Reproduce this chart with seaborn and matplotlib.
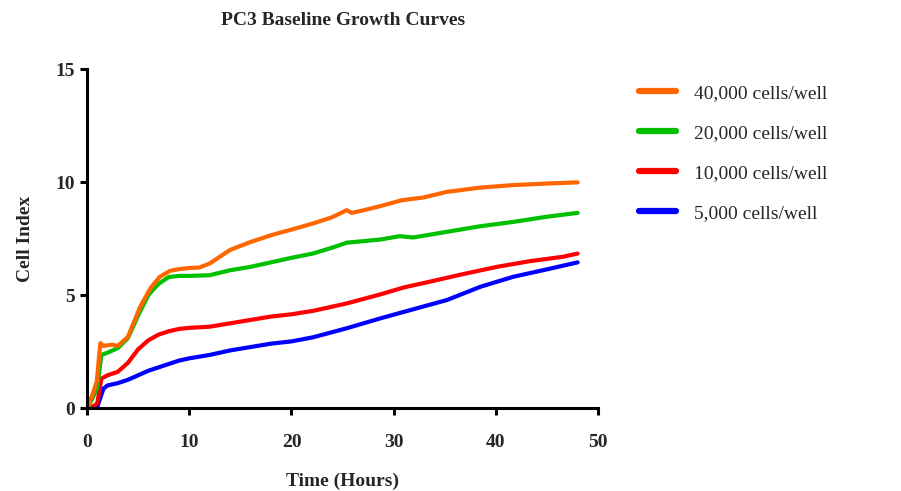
import matplotlib
matplotlib.use("Agg")
import matplotlib.pyplot as plt
import seaborn as sns
import pandas as pd

# values
labels = ["40,000 cells/well", "20,000 cells/well", "10,000 cells/well", "5,000 cells/well"]
colors = ["#FF6600", "#00C000", "#FF0000", "#0000FF"]

hours_40k = [0, 0.5, 0.95, 1.3, 1.6, 2, 2.5, 3, 3.5, 4, 5.2, 6.2, 7.1, 8.1, 9, 10, 11, 12,
             14, 16, 18, 20, 22.1, 24, 25.4, 25.9, 27, 28.7, 30.8, 32.9, 35.2, 38.5, 41.7, 45, 48]
cells_40k = [0, 0.55, 1.17, 2.87, 2.75, 2.78, 2.8, 2.75, 2.95, 3.15, 4.48, 5.3, 5.8, 6.07, 6.15, 6.2, 6.22, 6.4,
             7.0, 7.35, 7.65, 7.9, 8.17, 8.45, 8.76, 8.64, 8.75, 8.94, 9.2, 9.32, 9.57, 9.76, 9.87, 9.94, 9.99]

hours_20k = [0, 0.5, 1.0, 1.4, 2, 3, 4, 5, 6, 7, 8, 9, 10, 12, 14, 16, 18, 20, 22.1, 24,
             25.4, 28.7, 30.6, 31.9, 35.2, 38.5, 41.7, 45, 48]
cells_20k = [0, 0.4, 0.9, 2.35, 2.45, 2.65, 3.1, 4.1, 5.0, 5.5, 5.8, 5.85, 5.85, 5.88, 6.1, 6.25, 6.45, 6.65, 6.84, 7.1,
             7.32, 7.46, 7.61, 7.55, 7.8, 8.05, 8.24, 8.47, 8.64]

hours_10k = [0, 0.5, 1.0, 1.4, 2, 3, 4, 5, 6, 7, 8, 9, 10, 12, 14, 16, 18, 20, 22.1,
             25.4, 28.7, 31, 33.5, 36.8, 40.1, 43.3, 46.6, 48]
cells_10k = [0, 0.05, 0.2, 1.3, 1.45, 1.6, 2.0, 2.6, 3.0, 3.25, 3.4, 3.5, 3.55, 3.6, 3.75, 3.9, 4.05, 4.15, 4.3,
             4.63, 5.03, 5.34, 5.59, 5.93, 6.25, 6.5, 6.7, 6.84]

hours_5k = [0, 0.5, 1.0, 1.6, 2, 3, 4, 5, 6, 7, 8, 9, 10, 12, 14, 16, 18, 20, 22.1,
            25.4, 28.7, 31.9, 35.2, 38.5, 41.7, 45, 48]
cells_5k = [0, 0.02, 0.05, 0.85, 1.0, 1.1, 1.25, 1.45, 1.65, 1.8, 1.95, 2.1, 2.2, 2.35, 2.55, 2.7, 2.85, 2.95, 3.13,
            3.53, 3.97, 4.37, 4.78, 5.37, 5.81, 6.14, 6.45]

frames = []
for lab, h, c in zip(labels, [hours_40k, hours_20k, hours_10k, hours_5k],
                     [cells_40k, cells_20k, cells_10k, cells_5k]):
    frames.append(pd.DataFrame({"Time": h, "Cell Index": c, "Density": lab}))
df = pd.concat(frames, ignore_index=True)

sns.set_style("white")
plt.rcParams['font.family'] = ['Liberation Serif', 'DejaVu Serif']

fig = plt.figure(figsize=(9.01, 4.91), dpi=100)
ax = fig.add_axes([0.0966, 0.169, 0.5672, 0.690])

# draw lowest density first so orange ends up on top
sns.lineplot(data=df, x="Time", y="Cell Index", hue="Density",
             hue_order=labels[::-1], palette=dict(zip(labels, colors)),
             estimator=None, linewidth=3, ax=ax)

ax.set_xlim(0, 50)
ax.set_ylim(0, 15)
ax.set_xticks([0, 10, 20, 30, 40, 50])
ax.set_yticks([0, 5, 10, 15])
sns.despine(ax=ax)
for s in ["left", "bottom"]:
    ax.spines[s].set_linewidth(2.2)
    ax.spines[s].set_color("black")
ax.tick_params(axis="both", direction="out", length=5, width=2.2, color="black",
               labelsize=14, left=True, bottom=True)
ax.tick_params(axis="x", pad=14)
ax.tick_params(axis="y", pad=4)
for t in ax.get_xticklabels() + ax.get_yticklabels():
    t.set_fontweight("bold")

ax.set_xlabel("Time (Hours)", fontsize=14, fontweight="bold", labelpad=15)
ax.set_ylabel("Cell Index", fontsize=14, fontweight="bold", labelpad=15)
fig.text(0.381, 0.958, "PC3 Baseline Growth Curves", ha="center", va="center",
         fontsize=14, fontweight="bold")

handles, hlabels = ax.get_legend_handles_labels()
order = [hlabels.index(l) for l in labels]
for h in handles:
    h.set_linewidth(4.5)
ax.legend([handles[i] for i in order], labels, loc="upper left",
          bbox_to_anchor=(0.709, 0.828), bbox_transform=fig.transFigure,
          frameon=False, fontsize=14, handlelength=1.9, handletextpad=0.95,
          labelspacing=1.15, borderpad=0, borderaxespad=0)

fig.savefig("out.png", dpi=100)
